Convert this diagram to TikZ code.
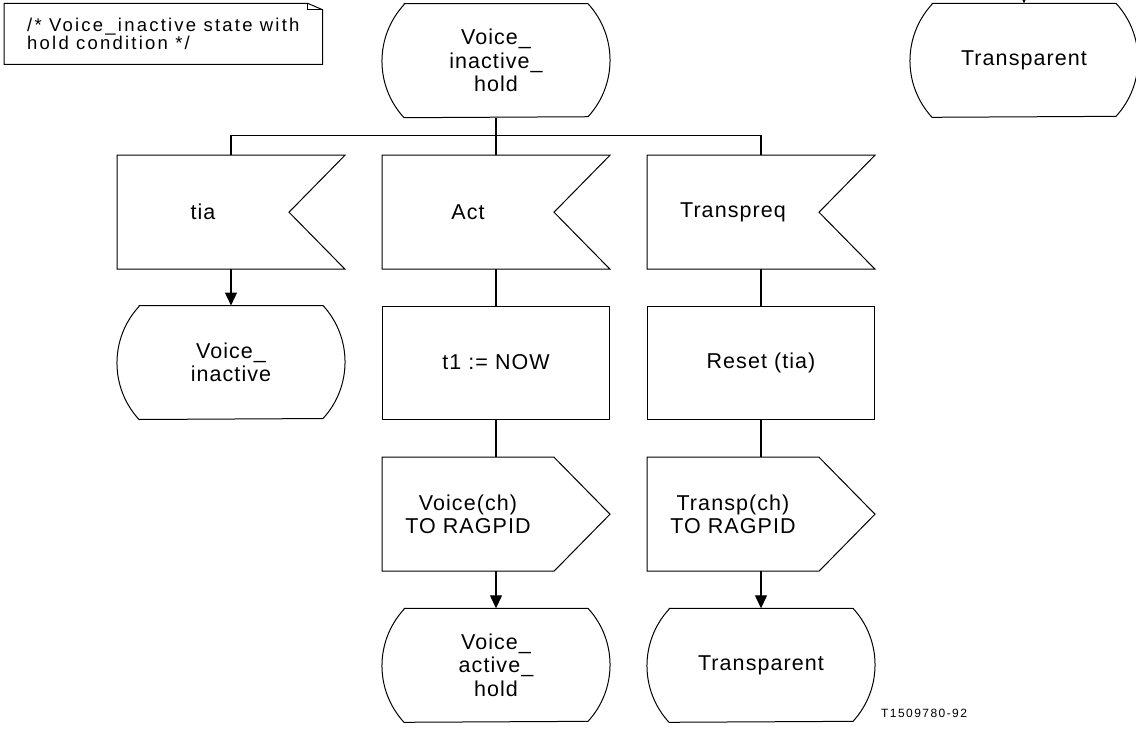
\documentclass[tikz,border=0pt]{standalone}
\usepackage{fontspec}
\setmainfont{Liberation Sans}
\newfontfamily\sdlfont[LetterSpace=5]{Liberation Sans}
\newfontfamily\notefont[LetterSpace=12]{Liberation Sans}
\usetikzlibrary{arrows.meta}

\tikzset{
  sdl/.style={inner sep=0pt,align=center,font=\sdlfont\fontsize{21.5}{23.5}\selectfont},
  sdlstate/.style={sdl,minimum width=227pt,minimum height=113pt},
  sdlin/.style={sdl,minimum width=171pt,minimum height=113pt},
  sdlout/.style={sdl,minimum width=171pt,minimum height=113pt},
  sdltask/.style={sdl,draw,minimum width=227pt,minimum height=113pt},
  flow/.style={line width=1.3pt},
  arr/.style={flow,-{Triangle[length=13pt,width=12pt]}},
}

\begin{document}
\begin{tikzpicture}[x=1pt,y=1pt,line width=1pt]
\useasboundingbox (0,0) rectangle (1136,-731);
\node[anchor=north west,minimum width=317.7pt,minimum height=60pt,inner sep=0pt,align=left,font=\notefont\fontsize{18.5}{16}\selectfont] (note) at (4,-3.3) {/* Voice\_inactive state with\\hold condition */};
\node[sdlstate] (hold) at (496,-60.7) {Voice\_\\inactive\_\\hold};
\node[sdlstate] (trntop) at (1024,-60.3) {Transparent};
\node[sdlin] (tia) at (203,-212.2) {tia};
\node[sdlin] (act) at (468,-212.2) {Act};
\node[sdlin] (trq) at (733,-212.2) {Transpreq};
\node[sdlstate] (inact) at (231,-362.5) {Voice\_\\inactive};
\node[sdltask] (t1) at (496,-362.5) {t1 := NOW};
\node[sdltask] (reset) at (761,-362.5) {Reset (tia)};
\node[sdlout] (vout) at (468,-514.2) {Voice(ch)\\TO RAGPID};
\node[sdlout] (tout) at (733,-514.2) {Transp(ch)\\TO RAGPID};
\node[sdlstate] (vahold) at (496,-665.3) {Voice\_\\active\_\\hold};
\node[sdlstate] (trn) at (761,-665.3) {Transparent};
\node[anchor=base west,inner sep=0pt,font=\notefont\fontsize{12}{13}\selectfont] (fig) at (880.7,-717.3) {T1509780-92};
\coordinate (bus) at (496,-135.7);
\coordinate (entry) at (1024,30);
% outlines
\foreach \n in {hold,trntop,inact,vahold,trn}
  \draw ([xshift=22pt]\n.north west) -- ([xshift=-22pt]\n.north east)
    arc[start angle=42.6,end angle=-42.6,radius=83.5]
    -- ([xshift=22pt]\n.south west)
    arc[start angle=222.6,end angle=137.4,radius=83.5] -- cycle;
\foreach \n in {tia,act,trq}
  \draw (\n.north west) -- ([xshift=56pt]\n.north east) -- (\n.east)
    -- ([xshift=56pt]\n.south east) -- (\n.south west) -- cycle;
\foreach \n in {vout,tout}
  \draw (\n.north west) -- (\n.north east) -- ([xshift=56pt]\n.east)
    -- (\n.south east) -- (\n.south west) -- cycle;
\draw (note.south west) -- (note.north west) -- ([xshift=-15pt]note.north east)
  -- ([yshift=-6.5pt]note.north east) -- (note.south east) -- cycle;
\draw ([xshift=-15pt]note.north east) |- ([yshift=-6.5pt]note.north east);
% connectors
\draw[flow] (hold.south) -- ([xshift=28pt]act.north);
\draw[flow] ([xshift=28pt]tia.north) |- (bus) -| ([xshift=28pt]trq.north);
\draw[arr] ([xshift=28pt]tia.south) -- (inact.north);
\draw[flow] ([xshift=28pt]act.south) -- (t1.north);
\draw[flow] (t1.south) -- ([xshift=28pt]vout.north);
\draw[arr] ([xshift=28pt]vout.south) -- (vahold.north);
\draw[flow] ([xshift=28pt]trq.south) -- (reset.north);
\draw[flow] (reset.south) -- ([xshift=28pt]tout.north);
\draw[arr] ([xshift=28pt]tout.south) -- (trn.north);
\draw[arr] (entry) -- (trntop.north);
\end{tikzpicture}
\end{document}
